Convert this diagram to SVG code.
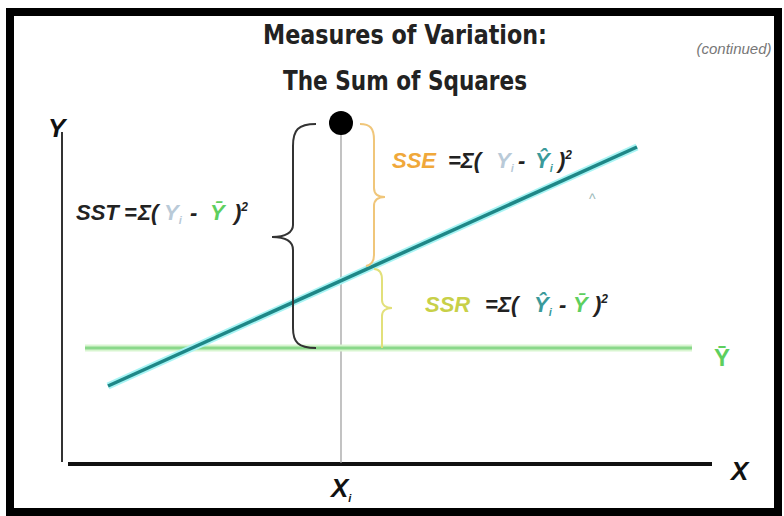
<svg xmlns="http://www.w3.org/2000/svg" width="784" height="516" viewBox="0 0 784 516">
<style>
.title{font-family:"Liberation Sans Narrow","DejaVu Sans Condensed","Liberation Sans",sans-serif;font-weight:bold;font-size:27px;fill:#222;text-anchor:middle}
.f{font-family:"Liberation Sans",Arial,sans-serif;font-weight:bold;font-style:italic;font-size:22px;fill:#222}
.ax{font-family:"Liberation Sans",Arial,sans-serif;font-weight:bold;font-style:italic;font-size:26px;fill:#111}
.sub{font-size:11px}
.sup{font-size:12px}
.fade{fill:#b9cad8}
.grn{fill:#5ecf5e}
.teal{fill:#3a9a9a}
</style>
<rect x="0" y="0" width="784" height="516" fill="#ffffff"/>
<rect x="10" y="12" width="768" height="500" fill="none" stroke="#000" stroke-width="8"/>
<g id="title">
<text class="title" x="405" y="44" textLength="284" lengthAdjust="spacingAndGlyphs">Measures of Variation:</text>
<text class="title" x="405" y="90" textLength="244" lengthAdjust="spacingAndGlyphs">The Sum of Squares</text>
<text x="734" y="54" font-family="Liberation Sans,Arial,sans-serif" font-style="italic" font-size="15" fill="#777" text-anchor="middle">(continued)</text>
</g>
<g id="axes">
<line x1="62" y1="132" x2="62" y2="462" stroke="#333" stroke-width="2"/>
<line x1="68" y1="464" x2="712" y2="464" stroke="#111" stroke-width="4"/>
<text class="ax" x="48" y="137">Y</text>
<text class="ax" x="731" y="480">X</text>
<text class="ax" x="331" y="497">X<tspan class="sub" dy="5">i</tspan></text>
</g>
<g id="connectors">
<line x1="341" y1="124" x2="341" y2="463" stroke="#9a9a9a" stroke-width="1.2"/>
<line x1="85" y1="348" x2="692" y2="348" stroke="#d8f5d0" stroke-width="7"/>
<line x1="85" y1="348" x2="692" y2="348" stroke="#8ad88a" stroke-width="3"/>
<line x1="108" y1="386" x2="637" y2="147" stroke="#a8f4f4" stroke-width="7"/>
<line x1="108" y1="386" x2="637" y2="147" stroke="#1e8787" stroke-width="3.5"/>
<path d="M316,124 C298,124 293,130 293,146 L293,225 C293,232 286,237 272,237 C286,237 293,242 293,250 L293,328 C293,342 298,348 316,348" fill="none" stroke="#333" stroke-width="2"/>
<path d="M360,124 C370,124 374,128 374,140 L374,188 C374,194 378,197 385,197 C378,197 374,200 374,206 L374,255 C374,261 371,265 366,266" fill="none" stroke="#f0c67a" stroke-width="2"/>
<path d="M374,269 C380,269 382,273 382,280 L382,300 C382,305 386,308 392,308 C386,308 382,311 382,316 L382,348" fill="none" stroke="#e2e07a" stroke-width="2"/>
</g>
<g id="point">
<circle cx="341" cy="123" r="12" fill="#000"/>
</g>
<g id="sst">
<text class="f" y="220"><tspan x="76">SST</tspan><tspan x="124">=</tspan><tspan x="138">Σ(</tspan><tspan class="fade" x="164">Y</tspan><tspan class="fade sub" dy="4">i</tspan><tspan x="190" dy="-4">-</tspan><tspan class="grn" x="210">Ȳ</tspan><tspan x="234">)</tspan><tspan class="sup" dy="-9">2</tspan></text>
</g>
<g id="sse">
<text class="f" y="168"><tspan x="392" fill="#f0a83a">SSE</tspan><tspan x="448">=Σ(</tspan><tspan class="fade" x="496">Y</tspan><tspan class="fade sub" dy="4">i</tspan><tspan x="518" dy="-4">-</tspan><tspan class="teal" x="535">Ŷ</tspan><tspan class="teal sub" dy="4">i</tspan><tspan x="558" dy="-4">)</tspan><tspan class="sup" dy="-9">2</tspan></text>
<text x="589" y="204" font-family="Liberation Sans,Arial,sans-serif" font-size="14" fill="#9ab8b8">^</text>
</g>
<g id="ssr">
<text class="f" y="312"><tspan x="425" fill="#c8d048">SSR</tspan><tspan x="485">=</tspan><tspan x="498">Σ(</tspan><tspan class="teal" x="534">Ŷ</tspan><tspan class="teal sub" dy="4">i</tspan><tspan x="559" dy="-4">-</tspan><tspan class="grn" x="573">Ȳ</tspan><tspan x="594">)</tspan><tspan class="sup" dy="-9">2</tspan></text>
</g>
<g id="ybar">
<text x="714" y="366" font-family="Liberation Sans,Arial,sans-serif" font-weight="bold" font-size="24" fill="#5ecf5e">Ȳ</text>
</g>
</svg>
